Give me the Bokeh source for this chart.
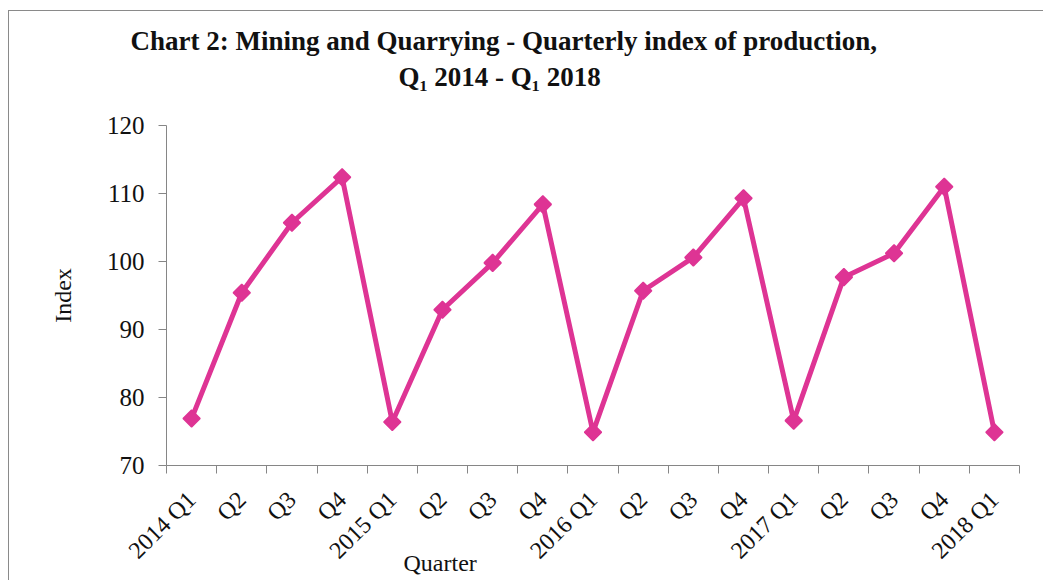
import math
from bokeh.plotting import figure
from bokeh.models import Range1d, FixedTicker, Title
from bokeh.embed import file_html
from bokeh.resources import INLINE

quarters = ["2014 Q1", "Q2", "Q3", "Q4", "2015 Q1", "Q2", "Q3", "Q4",
            "2016 Q1", "Q2", "Q3", "Q4", "2017 Q1", "Q2", "Q3", "Q4", "2018 Q1"]
index_values = [76.9, 95.4, 105.7, 112.4, 76.4, 92.9, 99.8, 108.4,
                74.9, 95.7, 100.6, 109.3, 76.6, 97.7, 101.2, 111.0, 74.9]
y_ticks = [70, 80, 90, 100, 110, 120]
title_line1 = "Chart 2: Mining and Quarrying - Quarterly index of production,"
title_line2 = "Q\u2081 2014  - Q\u2081 2018"

SERIF = "Liberation Serif"
LINE = "#DE3494"
AXIS = "#868686"
TXT = "#111111"

n = len(quarters)
xs = [i + 0.5 for i in range(n)]

p = figure(width=1035, height=570, output_backend="svg", toolbar_location=None,
           x_range=Range1d(0, n), y_range=Range1d(y_ticks[0], y_ticks[-1]),
           min_border_left=157, min_border_right=25, min_border_top=114,
           min_border_bottom=116)
p.styles = {"border-left": "1px solid #8a8a8a", "border-top": "1px solid #8a8a8a",
            "box-sizing": "border-box", "margin-left": "8px", "margin-top": "10px"}
p.outline_line_color = None
p.xgrid.visible = False
p.ygrid.visible = False

p.line(xs, index_values, line_color=LINE, line_width=5)
p.scatter(xs, index_values, marker="square", angle=math.pi / 4, size=12,
          fill_color=LINE, line_color=LINE, line_width=1.5)

# x axis
p.xaxis.ticker = FixedTicker(ticks=xs, minor_ticks=list(range(n + 1)))
p.xaxis.major_label_overrides = {x: q for x, q in zip(xs, quarters)}
p.xaxis.major_label_orientation = math.pi / 4
p.xaxis.major_tick_out = 0
p.xaxis.major_tick_in = 0
p.xaxis.minor_tick_out = 8
p.xaxis.minor_tick_in = 0
p.xaxis.minor_tick_line_color = AXIS
p.xaxis.axis_line_color = AXIS
p.xaxis.major_label_text_font = SERIF
p.xaxis.major_label_text_font_size = "24px"
p.xaxis.major_label_text_color = TXT
p.xaxis.major_label_standoff = 22

# y axis
p.yaxis.ticker = FixedTicker(ticks=y_ticks)
p.yaxis.minor_tick_line_color = None
p.yaxis.major_tick_out = 8
p.yaxis.major_tick_in = 0
p.yaxis.major_tick_line_color = AXIS
p.yaxis.axis_line_color = AXIS
p.yaxis.major_label_text_font = SERIF
p.yaxis.major_label_text_font_size = "25px"
p.yaxis.major_label_text_color = TXT
p.yaxis.major_label_standoff = 14
p.yaxis.axis_label = "Index"
p.yaxis.axis_label_text_font = SERIF
p.yaxis.axis_label_text_font_size = "24px"
p.yaxis.axis_label_text_font_style = "normal"
p.yaxis.axis_label_text_color = TXT
p.yaxis.axis_label_standoff = 28

p.add_layout(Title(text="Quarter", align="left", offset=237, standoff=-52,
                   vertical_align="top",
                   text_font=SERIF, text_font_size="24px", text_font_style="normal",
                   text_color=TXT), "below")
p.add_layout(Title(text=title_line2, align="left", offset=232, standoff=68,
                   vertical_align="bottom",
                   text_font=SERIF, text_font_size="27px", text_font_style="bold",
                   text_color=TXT), "above")
p.add_layout(Title(text=title_line1, align="left", offset=-36, standoff=-60,
                   vertical_align="bottom",
                   text_font=SERIF, text_font_size="27px", text_font_style="bold",
                   text_color=TXT), "above")

open("out.html", "w").write(file_html(p, INLINE))
